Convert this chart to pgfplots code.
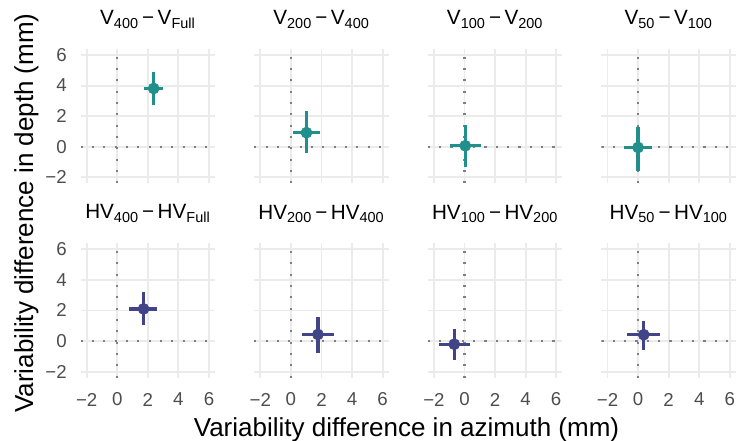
\documentclass[border=0pt]{standalone}
\usepackage{fontspec}
\setmainfont{Liberation Sans}
\usepackage{pgfplots}
\pgfplotsset{compat=1.18}
\definecolor{vteal}{HTML}{21908C}
\definecolor{vblue}{HTML}{414487}
\definecolor{gridc}{HTML}{EBEBEB}
\definecolor{tickc}{HTML}{4D4D4D}
\definecolor{refc}{HTML}{808080}
\pgfplotsset{
  panel/.style={
    scale only axis, width=100.875pt, height=100.875pt,
    xmin=-2.4, xmax=6.4, ymin=-2.4, ymax=6.4,
    axis line style={draw=none},
    tick style={draw=none},
    major tick length=0pt,
    xtick={-2,0,2,4,6}, ytick={-2,0,2,4,6},
    xticklabels={}, yticklabels={},
    grid=major, major grid style={gridc, line width=1.4pt},
    tick label style={font=\fontsize{14}{16}\selectfont, text=tickc, inner sep=0pt},
    xticklabel style={anchor=center, yshift=-16.35pt},
    yticklabel style={anchor=east, xshift=-10.2pt},
    title style={anchor=center, at={(0.5,1)}, yshift=16pt, font=\fontsize{15.5}{18}\selectfont, inner sep=0pt},
    anchor=north west,
  },
  xlab/.style={xticklabels={−2,0,2,4,6}},
  ylab/.style={yticklabels={−2,0,2,4,6}},
  refl/.style={refc, line width=1.6pt, dash pattern=on 1.6pt off 6.9pt, forget plot},
  pt/.style={only marks, mark=*, mark size=4.2pt, color=#1,
    error bars/.cd, x dir=both, y dir=both, x explicit, y explicit,
    error bar style={line width=2.5pt, color=#1}, error mark=none},
}
\newcommand{\refs}{%
  \addplot[refl] coordinates {(0,-2.4) (0,6.4)};
  \addplot[refl] coordinates {(-2.4,0) (6.4,0)};
}
\begin{document}
\begin{tikzpicture}
\useasboundingbox (0,0) rectangle (552pt,330.75pt);
% Row 1: V
\begin{axis}[panel, ylab, at={(60.45pt,294.075pt)}, title={V\textsubscript{400}\,−\,V\textsubscript{Full}}]
\refs
\addplot[pt=vteal] coordinates {(2.38,3.81) += (0.61,1.09) -= (0.63,1.07)};
\end{axis}
\begin{axis}[panel, at={(190.65pt,294.075pt)}, title={V\textsubscript{200}\,−\,V\textsubscript{400}}]
\refs
\addplot[pt=vteal] coordinates {(1.02,0.92) += (0.86,1.39) -= (0.87,1.34)};
\end{axis}
\begin{axis}[panel, at={(320.85pt,294.075pt)}, title={V\textsubscript{100}\,−\,V\textsubscript{200}}]
\refs
\addplot[pt=vteal] coordinates {(0.05,0.06) += (1.0,1.33) -= (0.98,1.38)};
\end{axis}
\begin{axis}[panel, at={(451.05pt,294.075pt)}, title={V\textsubscript{50}\,−\,V\textsubscript{100}}]
\refs
\addplot[pt=vteal] coordinates {(0.0,-0.05) += (0.93,1.33) -= (0.93,1.53)};
\end{axis}
% Row 2: HV
\begin{axis}[panel, xlab, ylab, at={(60.45pt,148.35pt)}, title={HV\textsubscript{400}\,−\,HV\textsubscript{Full}}]
\refs
\addplot[pt=vblue] coordinates {(1.72,2.1) += (0.88,1.1) -= (0.94,1.07)};
\end{axis}
\begin{axis}[panel, xlab, at={(190.65pt,148.35pt)}, title={HV\textsubscript{200}\,−\,HV\textsubscript{400}}]
\refs
\addplot[pt=vblue] coordinates {(1.77,0.43) += (1.02,1.17) -= (1.01,1.22)};
\end{axis}
\begin{axis}[panel, xlab, at={(320.85pt,148.35pt)}, title={HV\textsubscript{100}\,−\,HV\textsubscript{200}}]
\refs
\addplot[pt=vblue] coordinates {(-0.67,-0.21) += (1.06,1.01) -= (1.02,1.01)};
\end{axis}
\begin{axis}[panel, xlab, at={(451.05pt,148.35pt)}, title={HV\textsubscript{50}\,−\,HV\textsubscript{100}}]
\refs
\addplot[pt=vblue] coordinates {(0.37,0.41) += (1.04,0.87) -= (1.08,0.99)};
\end{axis}
\node[anchor=base, inner sep=0pt, font=\fontsize{19.5}{22}\selectfont] at (304.875pt,3.225pt) {Variability difference in azimuth (mm)};
\node[anchor=base, rotate=90, inner sep=0pt, font=\fontsize{19.5}{22}\selectfont] at (24.75pt,171pt) {Variability difference in depth (mm)};
\end{tikzpicture}
\end{document}
